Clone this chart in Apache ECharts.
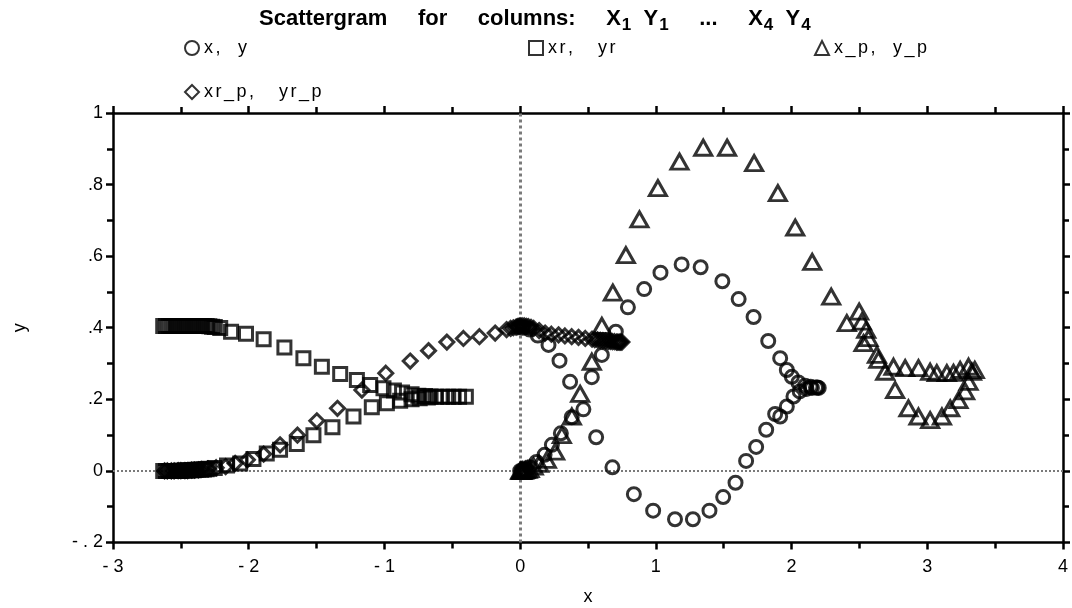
<!DOCTYPE html>
<html>
<head>
<meta charset="utf-8">
<style>
  html, body { margin: 0; padding: 0; background: #fff; }
  #chart { width: 1072px; height: 608px; }
</style>
<script src="https://cdn.jsdelivr.net/npm/echarts@6/dist/echarts.min.js"></script>
</head>
<body>
<div id="chart"></div>
<script>
// Series names (legend text)
const seriesNames = ['x,  y', 'xr,   yr', 'x_p,  y_p', 'xr_p,   yr_p'];

// x, y  (circles)
const xyX = [0.00, 0.01, 0.02, 0.04, 0.07, 0.12, 0.18, 0.234, 0.30, 0.38, 0.466, 0.528, 0.602, 0.705, 0.794, 0.914, 1.034, 1.19, 1.33, 1.49, 1.61, 1.72, 1.828, 1.916, 1.965, 2.002, 2.05, 2.10, 2.14, 2.18,
             0.02, 0.07, 0.13, 0.209, 0.29, 0.368, 0.56, 0.68, 0.838, 0.98, 1.141, 1.273, 1.395, 1.496, 1.587, 1.665, 1.739, 1.813, 1.879, 1.916, 1.965, 2.014, 2.06, 2.11, 2.15, 2.19, 2.20];
const xyY = [0.000, 0.000, 0.001, 0.004, 0.010, 0.025, 0.045, 0.073, 0.105, 0.150, 0.172, 0.262, 0.324, 0.389, 0.457, 0.508, 0.554, 0.577, 0.569, 0.530, 0.480, 0.430, 0.363, 0.315, 0.282, 0.263, 0.247, 0.238, 0.235, 0.233,
             0.400, 0.395, 0.378, 0.352, 0.308, 0.249, 0.094, 0.010, -0.065, -0.111, -0.135, -0.135, -0.111, -0.073, -0.033, 0.028, 0.067, 0.115, 0.159, 0.152, 0.180, 0.208, 0.222, 0.229, 0.232, 0.233, 0.232];

// xr, yr  (squares)
const xrX = [-2.63, -2.61, -2.59, -2.57, -2.55, -2.53, -2.51, -2.49, -2.47, -2.45, -2.43, -2.41, -2.39, -2.37, -2.35, -2.33, -2.31, -2.29, -2.27, -2.25, -2.21, -2.13, -2.02, -1.89, -1.737, -1.597, -1.461, -1.326, -1.203, -1.105, -1.007, -0.93, -0.87,
             -0.80, -0.75, -0.70, -0.66, -0.62, -0.575, -0.53, -0.49, -0.45, -0.40,
             -2.63, -2.61, -2.59, -2.57, -2.55, -2.53, -2.51, -2.49, -2.47, -2.45, -2.43, -2.41, -2.39, -2.37, -2.35, -2.33, -2.31, -2.29, -2.25, -2.16, -2.063, -1.965, -1.867, -1.769, -1.646, -1.523, -1.383, -1.228, -1.093, -0.982, -0.884, -0.80, -0.74, -0.68];
const xrY = [0.405, 0.405, 0.405, 0.405, 0.405, 0.405, 0.405, 0.405, 0.405, 0.405, 0.405, 0.405, 0.405, 0.405, 0.405, 0.405, 0.405, 0.404, 0.403, 0.402, 0.399, 0.389, 0.383, 0.368, 0.345, 0.315, 0.291, 0.271, 0.254, 0.240, 0.231, 0.225, 0.219,
             0.214, 0.210, 0.209, 0.208, 0.207, 0.207, 0.207, 0.207, 0.207, 0.207,
             0.000, 0.000, 0.000, 0.000, 0.000, 0.000, 0.000, 0.001, 0.001, 0.001, 0.002, 0.002, 0.003, 0.003, 0.004, 0.004, 0.005, 0.006, 0.008, 0.015, 0.021, 0.033, 0.049, 0.059, 0.075, 0.100, 0.122, 0.152, 0.178, 0.189, 0.196, 0.200, 0.203, 0.205];

// x_p, y_p  (triangles)
const xpX = [0.00, 0.005, 0.01, 0.015, 0.02, 0.03, 0.04, 0.055, 0.07, 0.10, 0.14, 0.197, 0.258, 0.307, 0.381, 0.442, 0.528, 0.602, 0.683, 0.779, 0.879, 1.015, 1.174, 1.349, 1.525, 1.724, 1.899, 2.027, 2.152, 2.292,
             2.407, 2.498, 2.518, 2.55, 2.567, 2.53, 2.629, 2.64, 2.69,
             2.751, 2.837, 2.935, 3.021, 3.07, 3.144, 3.193, 3.242, 3.304, 3.329, 3.35,
             2.763, 2.861, 2.935, 3.021, 3.108, 3.169, 3.23, 3.279, 3.304];
const xpY = [0.000, 0.000, 0.000, 0.000, 0.001, 0.001, 0.002, 0.003, 0.005, 0.012, 0.020, 0.031, 0.054, 0.100, 0.152, 0.215, 0.305, 0.405, 0.498, 0.603, 0.703, 0.790, 0.864, 0.903, 0.903, 0.860, 0.776, 0.680, 0.584, 0.487,
             0.413, 0.445, 0.417, 0.394, 0.371, 0.357, 0.324, 0.310, 0.277,
             0.291, 0.287, 0.287, 0.277, 0.273, 0.273, 0.274, 0.282, 0.291, 0.277, 0.282,
             0.226, 0.175, 0.152, 0.142, 0.152, 0.175, 0.198, 0.222, 0.249];

// xr_p, yr_p  (diamonds)
const xrpX = [-2.62, -2.60, -2.57, -2.55, -2.52, -2.50, -2.47, -2.45, -2.42, -2.40, -2.37, -2.35, -2.30, -2.24, -2.17, -2.10, -2.01, -1.89, -1.769, -1.641, -1.498, -1.346, -1.166, -0.99, -0.81, -0.675, -0.54, -0.418, -0.30, -0.184,
              -0.10, -0.07, -0.05, -0.03, -0.02, -0.01, 0.00, 0.015, 0.03, 0.045, 0.06, 0.08, 0.10, 0.14, 0.184, 0.23, 0.283, 0.33, 0.38, 0.43, 0.48, 0.53,
              0.55, 0.57, 0.59, 0.61, 0.63, 0.65, 0.665, 0.68, 0.695, 0.71, 0.72, 0.73, 0.74, 0.75];
const xrpY = [0.000, 0.000, 0.000, 0.000, 0.001, 0.001, 0.001, 0.001, 0.002, 0.002, 0.003, 0.004, 0.006, 0.009, 0.012, 0.021, 0.031, 0.047, 0.073, 0.100, 0.140, 0.175, 0.226, 0.273, 0.307, 0.336, 0.360, 0.370, 0.375, 0.385,
              0.395, 0.398, 0.400, 0.402, 0.403, 0.404, 0.405, 0.405, 0.405, 0.404, 0.403, 0.401, 0.398, 0.392, 0.385, 0.382, 0.380, 0.377, 0.375, 0.373, 0.370, 0.368,
              0.367, 0.366, 0.365, 0.364, 0.363, 0.362, 0.362, 0.361, 0.361, 0.360, 0.360, 0.360, 0.360, 0.360];

// Axis ranges and tick steps
const xRange = [-3, 4], xStep = 1;
const yRange = [-0.2, 1], yStep = 0.2;

const FONT = '"Liberation Sans", Arial, sans-serif';

function zip(xs, ys) { return xs.map((v, i) => [v, ys[i]]); }

// tick labels: "- 3", ".4", "- . 2"
function xLabel(v) {
  const r = Math.round(v);
  return r < 0 ? '- ' + Math.abs(r) : String(r);
}
function yLabel(v) {
  const r = Math.round(v * 10) / 10;
  if (r === 0) return '0';
  if (Math.abs(r) === 1) return r < 0 ? '- 1' : '1';
  const d = Math.round(Math.abs(r) * 10);
  return r < 0 ? '- . ' + d : '.' + d;
}

// spread each character into its own rich token so the text gets some tracking
function tracked(str, style) {
  return str.split('').map(ch => '{' + style + '|' + ch + '}').join('');
}

const markerStyle = { color: 'rgba(0,0,0,0)', borderColor: '#000', borderWidth: 3 };

const axisLine = { show: true, onZero: false, lineStyle: { color: '#000', width: 2.5 } };
const tick = { show: true, inside: false, length: 7, lineStyle: { color: '#000', width: 2.5 } };
const minor = { show: true, splitNumber: 2, length: 6, lineStyle: { color: '#000', width: 2.5 } };

const titleText =
  '{b|Scattergram     for     columns:     X}{s|1}{b|  Y}{s|1}{b|     ...     X}{s|4}{b|  Y}{s|4}';

const chart = echarts.init(document.getElementById('chart'));
chart.setOption({
  animation: false,
  backgroundColor: '#fff',
  title: {
    text: titleText,
    left: 254,
    top: 3,
    textStyle: {
      rich: {
        b: { fontFamily: FONT, fontSize: 22, fontWeight: 'bold', color: '#000', lineHeight: 26, verticalAlign: 'top' },
        s: { fontFamily: FONT, fontSize: 17, fontWeight: 'bold', color: '#000', lineHeight: 26, padding: [9, 0, 0, 1], verticalAlign: 'top' }
      }
    }
  },
  legend: [
    { data: [seriesNames[0]], left: 184, top: 39 },
    { data: [seriesNames[1]], left: 528, top: 39 },
    { data: [seriesNames[2]], left: 814, top: 39 },
    { data: [seriesNames[3]], left: 184, top: 83 }
  ].map(l => Object.assign(l, {
    itemWidth: 14, itemHeight: 14, itemGap: 0, padding: 0,
    formatter: name => tracked(name, 't'),
    textStyle: {
      fontFamily: FONT, fontSize: 18, color: '#000',
      rich: { t: { fontFamily: FONT, fontSize: 18, color: '#000', padding: [0, 2.5, 0, 0] } }
    }
  })),
  grid: { left: 113, right: 9, top: 113, bottom: 65.5, containLabel: false, outerBoundsMode: 'none' },
  xAxis: [
    {
      type: 'value', min: xRange[0], max: xRange[1], interval: xStep,
      name: 'x', nameLocation: 'middle', nameGap: 46,
      nameTextStyle: { fontFamily: FONT, fontSize: 18, color: '#000' },
      axisLine, axisTick: tick, minorTick: minor, splitLine: { show: false },
      axisLabel: { formatter: xLabel, fontFamily: FONT, fontSize: 18, color: '#000', margin: 16 }
    },
    {
      type: 'value', position: 'top', min: xRange[0], max: xRange[1], interval: xStep,
      axisLine, axisTick: tick, minorTick: minor, splitLine: { show: false },
      axisLabel: { show: false }
    }
  ],
  yAxis: [
    {
      type: 'value', min: yRange[0], max: yRange[1], interval: yStep,
      name: 'y', nameLocation: 'middle', nameGap: 84, nameRotate: 90,
      nameTextStyle: { fontFamily: FONT, fontSize: 18, color: '#000' },
      axisLine, axisTick: tick, minorTick: minor, splitLine: { show: false },
      axisLabel: { formatter: yLabel, fontFamily: FONT, fontSize: 18, color: '#000', margin: 10 }
    },
    {
      type: 'value', position: 'right', min: yRange[0], max: yRange[1], interval: yStep,
      axisLine, axisTick: tick, minorTick: minor, splitLine: { show: false },
      axisLabel: { show: false }
    }
  ],
  series: [
    {
      name: seriesNames[0], type: 'scatter', symbol: 'circle', symbolSize: 13,
      itemStyle: markerStyle, data: zip(xyX, xyY), z: 3,
      markLine: {
        silent: true, symbol: 'none', label: { show: false }, z: 1,
        data: [
          { xAxis: 0, lineStyle: { color: '#7a7a7a', width: 3, type: 'dotted' } },
          { yAxis: 0, lineStyle: { color: '#7a7a7a', width: 2, type: 'dotted' } }
        ]
      }
    },
    {
      name: seriesNames[1], type: 'scatter', symbol: 'rect', symbolSize: 13,
      itemStyle: markerStyle, data: zip(xrX, xrY), z: 3
    },
    {
      name: seriesNames[2], type: 'scatter', symbol: 'triangle', symbolSize: [17, 15],
      itemStyle: markerStyle, data: zip(xpX, xpY), z: 3
    },
    {
      name: seriesNames[3], type: 'scatter', symbol: 'diamond', symbolSize: 14,
      itemStyle: markerStyle, data: zip(xrpX, xrpY), z: 3
    }
  ]
});
</script>
</body>
</html>
